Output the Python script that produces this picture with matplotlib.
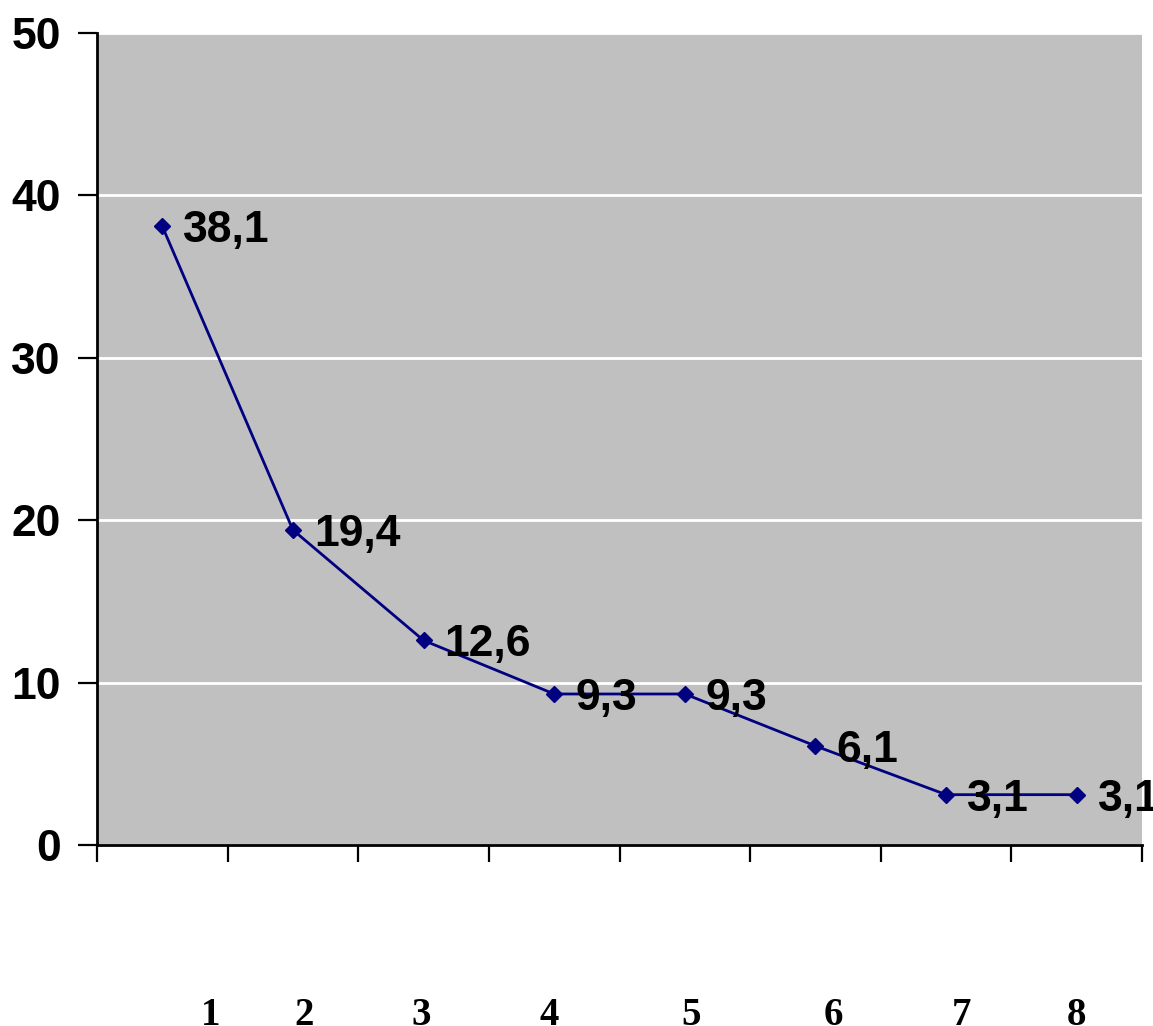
import matplotlib

matplotlib.use("Agg")
import matplotlib.pyplot as plt

# Serie y etiquetas
valores = [38.1, 19.4, 12.6, 9.3, 9.3, 6.1, 3.1, 3.1]
etiquetas_valor = ["38,1", "19,4", "12,6", "9,3", "9,3", "6,1", "3,1", "3,1"]
categorias = ["1", "2", "3", "4", "5", "6", "7", "8"]
yticks = [0, 10, 20, 30, 40, 50]

# posicion horizontal (fraccion de figura) de los rotulos de categoria
pos_rotulos = [0.183, 0.264, 0.365, 0.476, 0.599, 0.723, 0.834, 0.934]

fig = plt.figure(figsize=(11.53, 10.26), dpi=100)
ax = fig.add_axes([0.0841, 0.1764, 0.9064, 0.7914])
ax.set_facecolor("#c0c0c0")

x = list(range(len(valores)))
ax.plot(x, valores, color="#000080", lw=2, marker="D", ms=8.5,
        mfc="#000080", mec="#000080", zorder=3)

for xi, v, t in zip(x, valores, etiquetas_valor):
    ax.annotate(t, (xi, v), xytext=(21, -16), textcoords="offset pixels",
                ha="left", va="baseline", fontsize=32, fontweight="bold",
                family="Liberation Sans", color="black", zorder=4,
                annotation_clip=False)

ax.set_xlim(-0.5, len(valores) - 0.5)
ax.set_ylim(0, 50)
ax.set_yticks(yticks)
ax.set_yticklabels([str(v) for v in yticks], fontsize=32, fontweight="bold",
                   family="Liberation Sans")
ax.set_xticks([i - 0.5 for i in range(len(valores) + 1)])
ax.set_xticklabels([])
ax.tick_params(axis="both", direction="out", length=12, width=1.6, color="black")
ax.tick_params(axis="y", length=14, pad=12)

ax.grid(axis="y", color="white", lw=2)
ax.set_axisbelow(True)
for side in ("top", "right"):
    ax.spines[side].set_visible(False)
for side in ("left", "bottom"):
    ax.spines[side].set_linewidth(2)
    ax.spines[side].set_color("black")

for px, c in zip(pos_rotulos, categorias):
    fig.text(px, 0.001, c, ha="center", va="baseline", fontsize=28,
             fontweight="bold", family="Liberation Serif")

fig.savefig("out.png", dpi=100)
